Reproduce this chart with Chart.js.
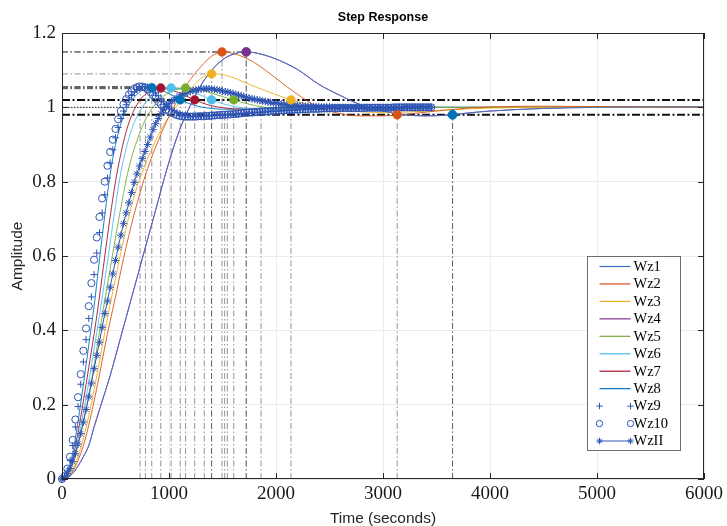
<!DOCTYPE html>
<html lang="en">
<head>
<meta charset="UTF-8">
<title>Step Response</title>
<script src="https://cdn.jsdelivr.net/npm/chart.js"></script>
<style>
  * { margin: 0; padding: 0; box-sizing: border-box; }
  body { width: 727px; height: 526px; background: #fff; overflow: hidden; }
  #chart { display: block; }
</style>
</head>
<body>
<canvas id="chart" width="727" height="526"></canvas>
<script>
  // ---- data ----
  const names = ['Wz1', 'Wz2', 'Wz3', 'Wz4', 'Wz5', 'Wz6', 'Wz7', 'Wz8', 'Wz9', 'Wz10', 'WzII'];
  const xTicks = [0, 1000, 2000, 3000, 4000, 5000, 6000];
  const yTicks = [0, 0.2, 0.4, 0.6, 0.8, 1, 1.2];

  // time samples of the plain lines (seconds)
  const tLine = [0, 50, 100, 150, 200, 250, 300, 350, 400, 450, 500, 550, 600, 650, 700, 750, 800, 850, 900, 950, 1000,
    1100, 1200, 1300, 1400, 1500, 1600, 1700, 1800, 1900, 2000,
    2200, 2400, 2600, 2800, 3000, 3200, 3400, 3600, 3800, 4000,
    4500, 5000, 5500, 6000];

  const wz1 = [0, 0.004, 0.015, 0.035, 0.06, 0.09, 0.14, 0.186, 0.232, 0.278, 0.33, 0.383, 0.435, 0.488, 0.54, 0.593, 0.645, 0.697, 0.75, 0.803, 0.853,
    0.94, 1.005, 1.06, 1.1, 1.128, 1.143, 1.149, 1.147, 1.14, 1.13,
    1.102, 1.062, 1.032, 1.006, 0.99, 0.98, 0.977, 0.979, 0.985, 0.99,
    0.997, 1.0, 1.001, 1.001];
  const wz2 = [0, 0.004, 0.02, 0.05, 0.09, 0.145, 0.21, 0.28, 0.355, 0.425, 0.49, 0.56, 0.625, 0.685, 0.74, 0.79, 0.835, 0.875, 0.91, 0.945, 0.975,
    1.03, 1.075, 1.11, 1.138, 1.149, 1.145, 1.135, 1.12, 1.1, 1.078,
    1.035, 1.0, 0.983, 0.977, 0.977, 0.981, 0.987, 0.993, 0.998, 1.001,
    1.003, 1.002, 1.001, 1.0];
  const wz3 = [0, 0.005, 0.025, 0.06, 0.11, 0.17, 0.24, 0.315, 0.395, 0.47, 0.54, 0.61, 0.675, 0.735, 0.785, 0.825, 0.862, 0.895, 0.925, 0.952, 0.975,
    1.015, 1.048, 1.078, 1.09, 1.088, 1.08, 1.068, 1.056, 1.045, 1.034,
    1.015, 1.002, 0.993, 0.988, 0.986, 0.987, 0.99, 0.993, 0.996, 0.998,
    1.0, 1.001, 1.0, 1.0];
  const wz5 = [0, 0.01, 0.04, 0.09, 0.155, 0.225, 0.305, 0.395, 0.48, 0.565, 0.65, 0.73, 0.805, 0.865, 0.91, 0.948, 0.978, 1.0, 1.018, 1.03, 1.04,
    1.05, 1.052, 1.047, 1.038, 1.029, 1.02, 1.012, 1.005, 1.0, 0.997,
    0.995, 0.996, 0.998, 0.999, 1.0, 1.0, 1.0, 1.0, 1.0, 1.0,
    1.0, 1.0, 1.0, 1.0];
  const wz6 = [0, 0.012, 0.048, 0.105, 0.18, 0.26, 0.35, 0.44, 0.535, 0.635, 0.735, 0.825, 0.89, 0.94, 0.975, 1.0, 1.02, 1.033, 1.043, 1.049, 1.052,
    1.05, 1.043, 1.032, 1.02, 1.01, 1.003, 0.998, 0.996, 0.995, 0.995,
    0.997, 0.999, 1.0, 1.0, 1.0, 1.0, 1.0, 1.0, 1.0, 1.0,
    1.0, 1.0, 1.0, 1.0];
  const wz7 = [0, 0.014, 0.055, 0.125, 0.21, 0.3, 0.39, 0.49, 0.6, 0.705, 0.8, 0.875, 0.935, 0.978, 1.007, 1.027, 1.04, 1.048, 1.052, 1.051, 1.049,
    1.038, 1.025, 1.013, 1.004, 0.999, 0.996, 0.995, 0.996, 0.997, 0.998,
    0.999, 1.0, 1.0, 1.0, 1.0, 1.0, 1.0, 1.0, 1.0, 1.0,
    1.0, 1.0, 1.0, 1.0];
  const wz8 = [0, 0.018, 0.07, 0.155, 0.255, 0.36, 0.465, 0.59, 0.71, 0.82, 0.9, 0.955, 0.993, 1.018, 1.035, 1.046, 1.051, 1.053, 1.05, 1.044, 1.037,
    1.021, 1.009, 1.001, 0.997, 0.995, 0.995, 0.996, 0.997, 0.998, 0.999,
    1.0, 1.0, 1.0, 1.0, 1.0, 1.0, 1.0, 1.0, 1.0, 1.0,
    1.0, 1.0, 1.0, 1.0];

  // time samples of the marker series (seconds)
  const tMark = [0, 25, 50, 75, 100, 125, 150, 175, 200, 225, 250, 275, 300, 325, 350, 375, 400, 425, 450, 475,
    500, 525, 550, 575, 600, 625, 650, 675, 700, 725, 750, 775, 800, 825, 850, 875, 900, 925, 950, 975,
    1000, 1025, 1050, 1075, 1100, 1125, 1150, 1175, 1200, 1225, 1250, 1275, 1300, 1325, 1350, 1375, 1400, 1425, 1450, 1475, 1500,
    1525, 1550, 1575, 1600, 1625, 1650, 1675, 1700, 1725, 1750, 1775, 1800, 1825, 1850, 1875, 1900, 1925, 1950, 1975, 2000,
    2025, 2050, 2075, 2100, 2125, 2150, 2175, 2200, 2225, 2250, 2275, 2300, 2325, 2350, 2375, 2400, 2425, 2450, 2475, 2500,
    2525, 2550, 2575, 2600, 2625, 2650, 2675, 2700, 2725, 2750, 2775, 2800, 2825, 2850, 2875, 2900, 2925, 2950, 2975, 3000,
    3025, 3050, 3075, 3100, 3125, 3150, 3175, 3200, 3225, 3250, 3275, 3300, 3325, 3350, 3375, 3400, 3425, 3450];

  const wz9 = [0, 0.006, 0.022, 0.05, 0.09, 0.14, 0.195, 0.255, 0.315, 0.375,
    0.432, 0.49, 0.55, 0.608, 0.663, 0.716, 0.765, 0.81, 0.85, 0.886,
    0.918, 0.946, 0.97, 0.99, 1.007, 1.021, 1.032, 1.041, 1.048, 1.052,
    1.055, 1.056, 1.055, 1.051, 1.046, 1.039, 1.031, 1.023, 1.015, 1.008,
    1.001, 0.995, 0.99, 0.986, 0.983, 0.98, 0.978, 0.977, 0.976, 0.976,
    0.976, 0.976, 0.976, 0.977, 0.977, 0.977, 0.978, 0.978, 0.979, 0.979,
    0.979,
    0.98, 0.98, 0.981, 0.981, 0.982, 0.982, 0.983, 0.984, 0.984, 0.985, 0.985, 0.986, 0.986, 0.987, 0.987, 0.988, 0.988, 0.989, 0.989, 0.99,
    0.99, 0.991, 0.991, 0.992, 0.992, 0.993, 0.993, 0.993, 0.994, 0.994, 0.994, 0.995, 0.995, 0.995, 0.996, 0.996, 0.996, 0.996, 0.997, 0.997,
    0.997, 0.997, 0.997, 0.997, 0.997, 0.998, 0.998, 0.998, 0.998, 0.998, 0.998, 0.998, 0.998, 0.999, 0.999, 0.999, 0.999, 0.999, 0.999, 0.999,
    0.999, 0.999, 0.999, 0.999, 0.999, 1.0, 1.0, 1.0, 1.0, 1.0, 1.0, 1.0, 1.0, 1.0, 1.0, 1.0, 1.0, 1.0];
  const wz10 = [0, 0.008, 0.028, 0.06, 0.105, 0.16, 0.22, 0.282, 0.345, 0.405,
    0.465, 0.527, 0.59, 0.65, 0.705, 0.755, 0.8, 0.843, 0.88, 0.913,
    0.942, 0.968, 0.99, 1.008, 1.022, 1.034, 1.043, 1.05, 1.054, 1.056,
    1.056, 1.053, 1.048, 1.041, 1.033, 1.024, 1.015, 1.007, 1.0, 0.994,
    0.989, 0.985, 0.982, 0.979, 0.977, 0.976, 0.975, 0.975, 0.975, 0.975,
    0.975, 0.976, 0.976, 0.976, 0.977, 0.977, 0.978, 0.978, 0.979, 0.979,
    0.98,
    0.98, 0.981, 0.981, 0.982, 0.982, 0.983, 0.984, 0.985, 0.985, 0.986, 0.986, 0.987, 0.987, 0.988, 0.988, 0.989, 0.989, 0.99, 0.99, 0.991,
    0.991, 0.992, 0.992, 0.993, 0.993, 0.993, 0.994, 0.994, 0.994, 0.995, 0.995, 0.995, 0.996, 0.996, 0.996, 0.996, 0.997, 0.997, 0.997, 0.997,
    0.998, 0.998, 0.998, 0.998, 0.998, 0.998, 0.998, 0.998, 0.998, 0.998, 0.998, 0.998, 0.998, 0.999, 0.999, 0.999, 0.999, 0.999, 0.999, 0.999,
    0.999, 0.999, 0.999, 1.0, 1.0, 1.0, 1.0, 1.0, 1.0, 1.0, 1.0, 1.0, 1.0, 1.0, 1.0, 1.0, 1.0, 1.0];
  const wz11 = [0, 0.005, 0.015, 0.028, 0.047, 0.068, 0.094, 0.122, 0.153, 0.187,
    0.221, 0.258, 0.297, 0.333, 0.368, 0.408, 0.445, 0.479, 0.516, 0.552,
    0.588, 0.624, 0.656, 0.687, 0.716, 0.743, 0.771, 0.798, 0.821, 0.842,
    0.862, 0.881, 0.9, 0.92, 0.94, 0.956, 0.97, 0.983, 0.994, 1.003,
    1.01, 1.016, 1.021, 1.026, 1.03, 1.034, 1.037, 1.04, 1.043, 1.045,
    1.047, 1.048, 1.049, 1.05, 1.05, 1.05, 1.049, 1.048, 1.047, 1.046,
    1.044,
    1.042, 1.041, 1.039, 1.037, 1.035, 1.033, 1.031, 1.029, 1.027, 1.025, 1.023, 1.022, 1.02, 1.019, 1.017, 1.016, 1.014, 1.013, 1.012, 1.011,
    1.01, 1.009, 1.008, 1.007, 1.006, 1.006, 1.005, 1.005, 1.004, 1.004, 1.003, 1.003, 1.002, 1.002, 1.002, 1.002, 1.001, 1.001, 1.001, 1.001,
    1.0, 1.0, 1.0, 1.0, 1.0, 1.0, 1.0, 1.0, 1.0, 1.0, 1.0, 1.0, 1.0, 0.999, 0.999, 0.999, 0.999, 0.999, 0.999, 0.999,
    0.999, 0.999, 0.999, 0.999, 0.999, 0.999, 0.999, 1.0, 1.0, 1.0, 1.0, 1.0, 1.0, 1.0, 1.0, 1.0, 1.0, 1.0];

  // step characteristics (peak response, settling time), same order as names
  const peakTime = [1722, 1495, 1398, 1722, 1155, 1020, 923, 839, 780, 730, 1330];
  const peakValue = [1.149, 1.149, 1.09, 1.149, 1.052, 1.052, 1.052, 1.053, 1.056, 1.056, 1.05];
  const settleTime = [3650, 3133, 2140, 3650, 1605, 1398, 1240, 1105, 1545, 1520, 1860];
  const settleValue = [0.98, 0.98, 1.02, 0.98, 1.02, 1.02, 1.02, 1.02, 0.98, 0.98, 1.02];
  const peakDotColor = ['#0072BD', '#D95319', '#EDB120', '#7E2F8E', '#77AC30', '#4DBEEE', '#A2142F', '#0072BD', null, null, null];
  const settleDotColor = ['#0072BD', '#D95319', '#EDB120', '#0072BD', '#77AC30', '#4DBEEE', '#A2142F', '#0072BD', null, null, null];

  // +-2% band and steady-state level
  const bandLevels = [1.02, 0.98];
  const steadyLevel = 1;
  const steadyEnd = 1006;

  // ---- build datasets ----
  const markBlue = '#2f55b4';
  const pts = (xs, ys) => xs.map((x, i) => ({ x: x, y: ys[i] }));

  function curve(label, xs, ys, color, order) {
    return {
      label: label, data: pts(xs, ys), showLine: true, borderColor: color, borderWidth: 0.9,
      pointRadius: 0, cubicInterpolationMode: 'monotone', order: order, inLegend: true, lgLine: true
    };
  }
  function markers(label, xs, ys, style, withLine, radius, order) {
    return {
      label: label, data: pts(xs, ys), showLine: withLine, borderColor: markBlue, borderWidth: 1,
      pointStyle: style, pointRadius: radius, pointBorderColor: markBlue, pointBorderWidth: 1,
      pointBackgroundColor: 'rgba(0,0,0,0)', clip: false, order: order,
      inLegend: true, lgLine: withLine, lgMark: style
    };
  }
  function refLine(data, color, width, dash, order) {
    return {
      data: data, showLine: true, borderColor: color, borderWidth: width, borderDash: dash,
      pointRadius: 0, order: order
    };
  }

  const datasets = [
    curve(names[0], tLine, wz1, '#3f6fc4', 50),
    curve(names[1], tLine, wz2, '#D95319', 50),
    curve(names[2], tLine, wz3, '#EDB120', 50),
    curve(names[3], tLine, wz1, '#7E2F8E', 52),
    curve(names[4], tLine, wz5, '#77AC30', 50),
    curve(names[5], tLine, wz6, '#4DBEEE', 50),
    curve(names[6], tLine, wz7, '#A2142F', 50),
    curve(names[7], tLine, wz8, '#0072BD', 50),
    markers(names[8], tMark, wz9, 'cross', false, 3.5, 20),
    markers(names[9], tMark, wz10, 'circle', false, 3.6, 20),
    markers(names[10], tMark, wz11, 'star', true, 3.8, 19)
  ];

  const grey = 'rgba(60,60,60,0.55)';
  names.forEach((n, i) => {
    datasets.push(refLine([{ x: 0, y: peakValue[i] }, { x: peakTime[i], y: peakValue[i] }], grey, 1, [6, 2.5, 1.5, 2.5], 100));
    datasets.push(refLine([{ x: peakTime[i], y: 0 }, { x: peakTime[i], y: peakValue[i] }], grey, 1, [6, 2.5, 1.5, 2.5], 100));
    datasets.push(refLine([{ x: settleTime[i], y: 0 }, { x: settleTime[i], y: settleValue[i] }], grey, 1, [6, 2.5, 1.5, 2.5], 100));
  });
  bandLevels.forEach(v => {
    datasets.push(refLine([{ x: xTicks[0], y: v }, { x: xTicks[xTicks.length - 1], y: v }], '#111', 2, [8, 2.5, 2, 2.5], 90));
  });
  datasets.push(refLine([{ x: 0, y: steadyLevel }, { x: steadyEnd, y: steadyLevel }], '#222', 1, [1.5, 1.5], 90));

  // characteristic dots
  const dotPts = [], dotCols = [];
  names.forEach((n, i) => {
    if (peakDotColor[i]) { dotPts.push({ x: peakTime[i], y: peakValue[i] }); dotCols.push(peakDotColor[i]); }
  });
  names.forEach((n, i) => {
    if (settleDotColor[i]) { dotPts.push({ x: settleTime[i], y: settleValue[i] }); dotCols.push(settleDotColor[i]); }
  });
  datasets.push({
    data: dotPts, showLine: false, pointRadius: 4.4, pointBackgroundColor: dotCols,
    pointBorderColor: dotCols, pointBorderWidth: 0.5, order: 1, clip: false
  });

  // ---- axes decoration, titles and legend ----
  function mark(ctx, style, x, y, r) {
    ctx.beginPath();
    if (style === 'circle') {
      ctx.arc(x, y, r, 0, Math.PI * 2);
    } else {
      ctx.moveTo(x - r, y); ctx.lineTo(x + r, y);
      ctx.moveTo(x, y - r); ctx.lineTo(x, y + r);
      if (style === 'star') {
        const d = r * 0.7071;
        ctx.moveTo(x - d, y - d); ctx.lineTo(x + d, y + d);
        ctx.moveTo(x - d, y + d); ctx.lineTo(x + d, y - d);
      }
    }
    ctx.stroke();
  }

  const matlabAxes = {
    id: 'matlabAxes',
    afterDraw(chart) {
      const ctx = chart.ctx;
      const a = chart.chartArea;
      const sx = chart.scales.x, sy = chart.scales.y;
      ctx.save();

      // box and inward ticks
      ctx.strokeStyle = '#262626';
      ctx.lineWidth = 1;
      ctx.strokeRect(a.left + 0.5, a.top + 0.5, a.right - a.left - 1, a.bottom - a.top - 1);
      ctx.beginPath();
      xTicks.forEach(v => {
        const px = Math.round(sx.getPixelForValue(v)) + 0.5;
        ctx.moveTo(px, a.bottom); ctx.lineTo(px, a.bottom - 6);
        ctx.moveTo(px, a.top); ctx.lineTo(px, a.top + 6);
      });
      yTicks.forEach(v => {
        const py = Math.round(sy.getPixelForValue(v)) + 0.5;
        ctx.moveTo(a.left, py); ctx.lineTo(a.left + 6, py);
        ctx.moveTo(a.right, py); ctx.lineTo(a.right - 6, py);
      });
      ctx.stroke();

      // title and axis labels
      const cx = (a.left + a.right) / 2;
      ctx.fillStyle = '#000';
      ctx.textAlign = 'center';
      ctx.textBaseline = 'middle';
      ctx.font = 'bold 12.5px "Liberation Sans", Arial, sans-serif';
      ctx.fillText('Step Response', cx, a.top - 15);
      ctx.font = '15.5px "Liberation Sans", Arial, sans-serif';
      ctx.fillStyle = '#262626';
      ctx.fillText('Time (seconds)', cx, a.bottom + 40);
      ctx.save();
      ctx.translate(18, (a.top + a.bottom) / 2);
      ctx.rotate(-Math.PI / 2);
      ctx.fillText('Amplitude', 0, 0);
      ctx.restore();

      // legend
      const bw = 93, bh = 194;
      const bx = a.right - 117, by = a.bottom - 223;
      ctx.fillStyle = '#fff';
      ctx.fillRect(bx, by, bw, bh);
      ctx.strokeStyle = '#6e6e6e';
      ctx.lineWidth = 1;
      ctx.strokeRect(bx + 0.5, by + 0.5, bw, bh);
      const items = chart.data.datasets.filter(d => d.inLegend);
      ctx.font = '14.5px "Liberation Serif", "Times New Roman", serif';
      ctx.textAlign = 'left';
      items.forEach((d, i) => {
        const y = by + 10.5 + i * 17.45;
        const x0 = bx + 12.5, x1 = bx + 43.5;
        ctx.strokeStyle = d.borderColor;
        ctx.lineWidth = d.lgMark ? 1 : 1.2;
        if (d.lgLine) {
          ctx.beginPath(); ctx.moveTo(x0, y); ctx.lineTo(x1, y); ctx.stroke();
        }
        if (d.lgMark) {
          mark(ctx, d.lgMark, x0, y, 3.2);
          mark(ctx, d.lgMark, x1, y, 3.2);
        }
        ctx.fillStyle = '#000';
        ctx.fillText(d.label, bx + 46.5, y + 0.5);
      });
      ctx.restore();
    }
  };

  new Chart(document.getElementById('chart'), {
    type: 'scatter',
    data: { datasets: datasets },
    options: {
      responsive: false,
      animation: false,
      events: [],
      layout: { padding: { top: 33, right: 21, left: 0, bottom: 0 } },
      plugins: { legend: { display: false }, tooltip: { enabled: false } },
      scales: {
        x: {
          type: 'linear', min: 0, max: 6000,
          afterBuildTicks: s => { s.ticks = xTicks.map(v => ({ value: v })); },
          ticks: {
            padding: 4, color: '#1a1a1a', maxRotation: 0,
            font: { family: '"Liberation Serif", "Times New Roman", serif', size: 19 },
            callback: v => String(v)
          },
          grid: { color: '#ebebeb', drawTicks: false },
          border: { display: false },
          afterFit: s => { s.height = 47; }
        },
        y: {
          type: 'linear', min: 0, max: 1.2,
          afterBuildTicks: s => { s.ticks = yTicks.map(v => ({ value: v })); },
          ticks: {
            padding: 6, color: '#1a1a1a',
            font: { family: '"Liberation Serif", "Times New Roman", serif', size: 19 },
            callback: v => String(Math.round(v * 10) / 10)
          },
          grid: { color: '#ebebeb', drawTicks: false },
          border: { display: false },
          afterFit: s => { s.width = 62; }
        }
      }
    },
    plugins: [matlabAxes]
  });
</script>
</body>
</html>
